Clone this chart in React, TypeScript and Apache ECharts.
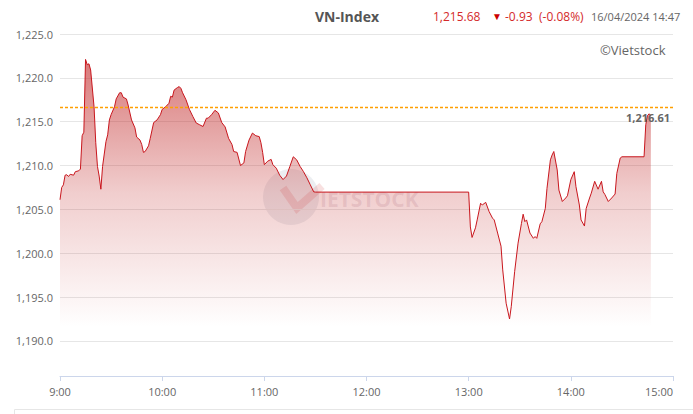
import React, { useEffect, useRef } from "react";
import * as echarts from "echarts";

const times: string[] = [
  "9:00", "9:01", "9:02", "9:03", "9:04", "9:05", "9:06", "9:08", "9:09", "9:11",
  "9:12", "9:13", "9:14", "9:15", "9:16", "9:17", "9:18", "9:20", "9:21", "9:22",
  "9:23", "9:24", "9:25", "9:27", "9:28", "9:29", "9:30", "9:32", "9:33", "9:35",
  "9:36", "9:37", "9:39", "9:40", "9:42", "9:44", "9:45", "9:47", "9:48", "9:49",
  "9:50", "9:52", "9:53", "9:55", "9:57", "9:59", "10:00", "10:02", "10:04", "10:05",
  "10:06", "10:07", "10:09", "10:10", "10:11", "10:12", "10:14", "10:16", "10:18", "10:20",
  "10:22", "10:24", "10:26", "10:27", "10:29", "10:31", "10:33", "10:35", "10:37", "10:39",
  "10:41", "10:42", "10:44", "10:46", "10:48", "10:49", "10:51", "10:53", "10:55", "10:57",
  "10:58", "10:59", "11:00", "11:02", "11:04", "11:05", "11:07", "11:09", "11:11", "11:13",
  "11:15", "11:17", "11:19", "11:21", "11:23", "11:25", "11:27", "11:29", "11:30",
  "13:00", "13:01", "13:02", "13:04", "13:05", "13:07", "13:08", "13:10", "13:12", "13:14",
  "13:15", "13:17", "13:19", "13:20", "13:22", "13:24", "13:25", "13:27", "13:29", "13:31",
  "13:32", "13:33", "13:34", "13:36", "13:38", "13:39", "13:40", "13:42", "13:43", "13:45",
  "13:46", "13:48", "13:49", "13:50", "13:52", "13:53", "13:55", "13:57", "13:58", "14:00",
  "14:02", "14:03", "14:05", "14:06", "14:08", "14:09", "14:11", "14:12", "14:14", "14:16",
  "14:18", "14:19", "14:20", "14:22", "14:24", "14:26", "14:27", "14:29", "14:30", "14:43",
  "14:44", "14:45", "14:46", "14:47",
];

const values: number[] = [
  1206.1, 1207.5, 1207.8, 1208.9, 1208.95, 1208.75, 1209.0, 1208.9, 1209.3, 1209.4,
  1209.6, 1213.4, 1213.8, 1222.1, 1221.5, 1221.6, 1220.9, 1216.7, 1212.6, 1209.9,
  1208.8, 1207.3, 1209.9, 1212.75, 1213.5, 1215.2, 1215.8, 1216.7, 1217.6, 1218.3,
  1218.3, 1217.8, 1217.6, 1216.9, 1215.2, 1214.3, 1213.25, 1212.9, 1212.4, 1211.5,
  1211.6, 1212.25, 1213.1, 1214.9, 1215.2, 1215.8, 1216.4, 1216.7, 1217.1, 1217.9,
  1217.8, 1218.6, 1218.9, 1219.0, 1218.8, 1218.3, 1217.5, 1216.4, 1215.6, 1214.85,
  1214.65, 1214.45, 1215.4, 1215.4, 1215.8, 1216.3, 1216.0, 1214.9, 1214.4, 1213.1,
  1212.4, 1211.6, 1211.5, 1210.0, 1210.3, 1211.6, 1212.9, 1213.7, 1213.4, 1213.3,
  1212.6, 1211.5, 1210.1, 1210.5, 1210.7, 1210.1, 1209.7, 1208.9, 1208.4, 1208.8,
  1209.9, 1211.0, 1210.65, 1209.9, 1209.3, 1208.6, 1207.8, 1207.0, 1206.97,
  1206.97, 1203.0, 1201.8, 1202.9, 1203.8, 1205.7, 1205.5, 1205.8, 1204.75, 1204.0,
  1203.8, 1202.3, 1200.8, 1198.1, 1194.3, 1192.5, 1193.9, 1197.9, 1201.15, 1203.4,
  1204.45, 1203.6, 1203.8, 1202.3, 1201.7, 1201.9, 1201.7, 1203.35, 1203.6, 1205.1,
  1207.4, 1210.65, 1211.2, 1211.6, 1209.5, 1207.2, 1205.9, 1206.3, 1206.55, 1208.4,
  1209.3, 1207.6, 1205.5, 1203.8, 1203.1, 1205.1, 1206.3, 1206.85, 1208.2, 1207.3,
  1208.2, 1207.0, 1206.7, 1205.9, 1206.3, 1206.75, 1209.1, 1210.85, 1211.0, 1211.0,
  1214.65, 1215.7, 1215.9, 1215.68,
];

const referenceClose = 1216.61;
const lastValue = 1215.68;
const change = -0.93;
const changePct = -0.08;
const title = "VN-Index";
const stamp = "16/04/2024 14:47";
const xTickLabels: string[] = ["9:00", "10:00", "11:00", "12:00", "13:00", "14:00", "15:00"];

const toMin = (t: string) => {
  const [h, m] = t.split(":").map(Number);
  return h * 60 + m;
};

const fmt = (v: number, d: number) =>
  v.toLocaleString("en-US", { minimumFractionDigits: d, maximumFractionDigits: d });

export default function App() {
  const ref = useRef<HTMLDivElement>(null);

  useEffect(() => {
    document.body.style.margin = "0";
    if (!ref.current) return;
    const chart = echarts.init(ref.current, null, { renderer: "svg" });
    const data = times.map((t, i) => [toMin(t), values[i]]);
    const font = "'Open Sans', 'Noto Sans', sans-serif";
    const red = "#d42a2a";
    const xMin = toMin(xTickLabels[0]);
    const xMax = toMin(xTickLabels[xTickLabels.length - 1]);

    chart.setOption({
      animation: false,
      textStyle: { fontFamily: font },
      grid: { left: 60, right: 20, top: 34, bottom: 38 },
      xAxis: {
        type: "value",
        min: xMin,
        max: xMax,
        interval: 60,
        axisLine: { show: true, lineStyle: { color: "#ccd6eb" } },
        axisTick: { show: true, length: 5, lineStyle: { color: "#ccd6eb" } },
        splitLine: { show: false },
        axisLabel: {
          color: "#666",
          fontSize: 11,
          fontFamily: font,
          margin: 10,
          alignMaxLabel: "right",
          formatter: (v: number) => xTickLabels[Math.round((v - xMin) / 60)] ?? "",
        },
      },
      yAxis: {
        type: "value",
        min: 1186,
        max: 1225,
        splitNumber: 8,
        axisLine: { show: false },
        axisTick: { show: false },
        splitLine: { lineStyle: { color: "#e6e6e6" } },
        axisLabel: {
          color: "#666",
          fontSize: 11,
          fontFamily: font,
          margin: 7,
          formatter: (v: number) => (Math.abs(v % 5) < 1e-6 ? fmt(v, 1) : ""),
        },
      },
      graphic: [
        { type: "circle", shape: { cx: 291, cy: 197, r: 28 }, style: { fill: "rgba(110,120,150,0.13)" }, z: 0 },
        {
          type: "polyline",
          shape: { points: [[283, 188], [297, 208], [322, 186]] },
          style: { stroke: "rgba(210,60,60,0.16)", lineWidth: 8, fill: "none" },
          z: 0,
        },
        {
          type: "text", x: 320, y: 199, z: 0,
          style: { text: "IETSTOCK", fill: "rgba(170,130,150,0.2)", font: `bold 21px ${font}`, verticalAlign: "middle" },
        },
        {
          type: "text", x: 315, y: 16,
          style: { text: title, fill: "#555", font: `bold 14px ${font}`, verticalAlign: "middle" },
        },
        {
          type: "text", x: 433, y: 16,
          style: { text: fmt(lastValue, 2), fill: red, font: `12px ${font}`, verticalAlign: "middle" },
        },
        {
          type: "text", x: 492, y: 16,
          style: { text: "▼", fill: "#c00", font: `10px ${font}`, verticalAlign: "middle" },
        },
        {
          type: "text", x: 505, y: 16,
          style: { text: fmt(change, 2), fill: red, font: `12px ${font}`, verticalAlign: "middle" },
        },
        {
          type: "text", x: 539, y: 16,
          style: { text: `(${fmt(changePct, 2)}%)`, fill: red, font: `12px ${font}`, verticalAlign: "middle" },
        },
        {
          type: "text", x: 591, y: 16,
          style: { text: stamp, fill: "#666", font: `11px ${font}`, verticalAlign: "middle" },
        },
        {
          type: "text", x: 600, y: 50,
          style: { text: "©Vietstock", fill: "#666", font: `13px ${font}`, verticalAlign: "middle" },
        },
        {
          type: "rect", shape: { x: 14.5, y: 409.5, width: 700, height: 30 },
          style: { fill: "none", stroke: "#e6e6e6", lineWidth: 1 },
        },
      ],
      series: [
        {
          type: "line",
          data,
          showSymbol: false,
          symbol: "none",
          lineStyle: { color: "#c8161d", width: 1 },
          itemStyle: { color: "#c8161d" },
          areaStyle: {
            origin: 1191.6,
            opacity: 1,
            color: new echarts.graphic.LinearGradient(0, 0, 0, 1, [
              { offset: 0, color: "rgba(190,30,30,0.6)" },
              { offset: 0.5, color: "rgba(190,30,30,0.22)" },
              { offset: 1, color: "rgba(190,30,30,0.0)" },
            ]),
          },
          z: 3,
        },
        {
          type: "line",
          data: [[xMin, referenceClose], [xMax, referenceClose]],
          showSymbol: false,
          symbol: "none",
          silent: true,
          lineStyle: { color: "#ff9f00", width: 1.4, type: [3, 2] },
          itemStyle: { color: "#ff9f00" },
          markLine: {
            silent: true,
            symbol: "none",
            lineStyle: { width: 0, color: "rgba(0,0,0,0)" },
            label: {
              show: true,
              position: "insideEndBottom",
              formatter: () => fmt(referenceClose, 2),
              color: "#666",
              fontSize: 11,
              fontWeight: "bold",
              fontFamily: font,
              distance: [3, 4],
            },
            data: [{ yAxis: referenceClose }],
          },
          z: 4,
        },
      ],
    });
    return () => chart.dispose();
  }, []);

  return <div ref={ref} style={{ position: "fixed", left: 0, top: 0, width: 693, height: 414, background: "#fff" }} />;
}
